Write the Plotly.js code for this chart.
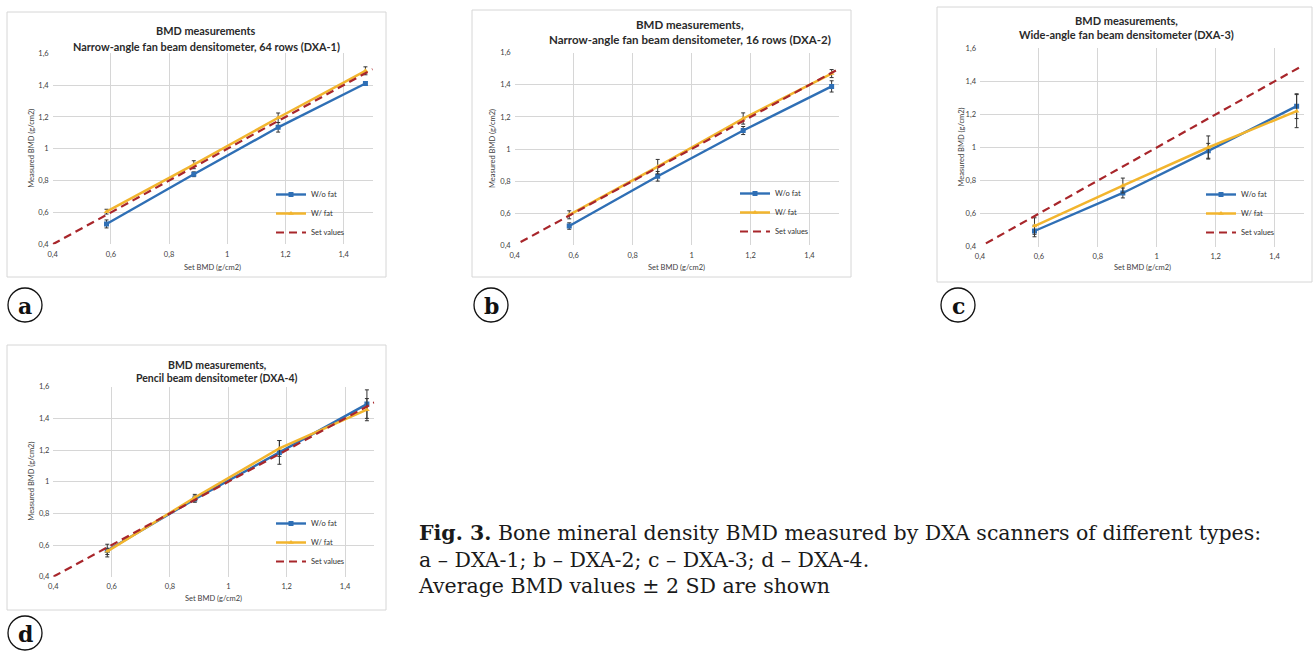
<!DOCTYPE html>
<html><head><meta charset="utf-8">
<script src="https://cdn.plot.ly/plotly-3.0.1.min.js"></script>
<style>html,body{margin:0;padding:0;background:#fff;}#chart{width:1313px;height:651px;}</style>
</head><body><div id="chart"></div>
<script>
// ---------------- DATA ----------------
const setBMD = [0.585, 0.885, 1.175, 1.475];

const dxa1WoFat    = [0.528, 0.840, 1.135, 1.410];
const dxa1WoFatSD2 = [0.025, 0.015, 0.030, 0.012];
const dxa1WFat     = [0.605, 0.900, 1.195, 1.490];
const dxa1WFatSD2  = [0.015, 0.025, 0.030, 0.025];

const dxa2WoFat    = [0.520, 0.830, 1.115, 1.390];
const dxa2WoFatSD2 = [0.020, 0.030, 0.025, 0.035];
const dxa2WFat     = [0.590, 0.890, 1.190, 1.470];
const dxa2WFatSD2  = [0.025, 0.045, 0.035, 0.025];

const dxa3WoFat    = [0.495, 0.725, 0.980, 1.250];
const dxa3WoFatSD2 = [0.035, 0.030, 0.045, 0.075];
const dxa3WFat     = [0.525, 0.770, 1.000, 1.220];
const dxa3WFatSD2  = [0.050, 0.045, 0.070, 0.100];

const dxa4WoFat    = [0.565, 0.890, 1.185, 1.490];
const dxa4WoFatSD2 = [0.040, 0.020, 0.075, 0.090];
const dxa4WFat     = [0.560, 0.900, 1.210, 1.455];
const dxa4WFatSD2  = [0.020, 0.020, 0.050, 0.070];

const setLineAD = [0.40, 1.50];
const setLineBC = [0.42, 1.49];

const seriesNames = ["W/o fat", "W/ fat", "Set values"];
const tickVals = [0.4, 0.6, 0.8, 1.0, 1.2, 1.4, 1.6];
const tickText = ["0,4", "0,6", "0,8", "1", "1,2", "1,4", "1,6"];
const titleLine1 = ["BMD measurements", "BMD measurements,", "BMD measurements,", "BMD measurements,"];
const titleLine2 = ["Narrow-angle fan beam densitometer, 64 rows (DXA-1)",
                    "Narrow-angle fan beam densitometer, 16 rows (DXA-2)",
                    "Wide-angle fan beam densitometer (DXA-3)",
                    "Pencil beam densitometer (DXA-4)"];
const panelLetters = ["a", "b", "c", "d"];
const xTitle = "Set BMD (g/cm2)";
const yTitle = "Measured BMD (g/cm2)";
const captionBold = "Fig. 3.";
const caption1 = " Bone mineral density BMD measured by DXA scanners of different types:";
const caption2 = "a – DXA-1; b – DXA-2; c – DXA-3; d – DXA-4.";
const caption3 = "Average BMD values ± 2 SD are shown";

// ---------------- LAYOUT ----------------
const W = 1313, H = 651;
const fx = p => p / W;
const fy = p => 1 - p / H;

const BLUE = "#2f6fb5", GOLD = "#f2b52e", RED = "#a8262b";
const FONT = "Lato, 'Open Sans', sans-serif";

const panelData = [
  {wo: dxa1WoFat, woE: dxa1WoFatSD2, w: dxa1WFat, wE: dxa1WFatSD2, set: setLineAD},
  {wo: dxa2WoFat, woE: dxa2WoFatSD2, w: dxa2WFat, wE: dxa2WFatSD2, set: setLineBC},
  {wo: dxa3WoFat, woE: dxa3WoFatSD2, w: dxa3WFat, wE: dxa3WFatSD2, set: setLineBC},
  {wo: dxa4WoFat, woE: dxa4WoFatSD2, w: dxa4WFat, wE: dxa4WFatSD2, set: setLineAD}
];

// pixel geometry of each panel
const geo = [
  {x0: 52.7, x1: 372.7, y0: 53.3, y1: 244.3, frame: [7, 12, 386, 277], t1: 30.5, t2: 46.5, tc: 206, ts: 10.9, yt: 32, xt: 267, leg: [271, 180], lab: [25, 305]},
  {x0: 514.7, x1: 839.0, y0: 52.7, y1: 245.3, frame: [472, 10, 851, 277], t1: 25, t2: 39.5, tc: 690, ts: 11.5, yt: 493, xt: 267, leg: [735, 179], lab: [491, 305]},
  {x0: 980.0, x1: 1304.0, y0: 48.3, y1: 246.7, frame: [937, 7, 1312, 282], t1: 20, t2: 35, tc: 1126, ts: 11, yt: 961, xt: 268, leg: [1201, 180], lab: [958, 305]},
  {x0: 53.3, x1: 374.2, y0: 386.7, y1: 576.7, frame: [7, 345, 386, 610], t1: 365, t2: 377.5, tc: 217, ts: 10.5, yt: 32, xt: 598, leg: [271, 509], lab: [25, 633]}
];

const traces = [];
const layout = {
  width: W, height: H, margin: {l: 0, r: 0, t: 0, b: 0},
  paper_bgcolor: "#fff", plot_bgcolor: "#fff",
  showlegend: true, font: {family: FONT, color: "#404040"},
  shapes: [], annotations: []
};

panelData.forEach((d, i) => {
  const g = geo[i];
  const sfx = i === 0 ? "" : String(i + 1);
  const xa = "x" + sfx, ya = "y" + sfx;
  const legName = i === 0 ? "legend" : "legend" + (i + 1);
  traces.push({
    x: setBMD, y: d.wo, xaxis: xa, yaxis: ya, name: seriesNames[0], legend: legName,
    mode: "lines+markers", line: {color: BLUE, width: 2.4},
    marker: {symbol: "square", size: 5, color: BLUE},
    error_y: {type: "data", array: d.woE, visible: true, color: "#333", thickness: 1, width: 2}
  });
  traces.push({
    x: setBMD, y: d.w, xaxis: xa, yaxis: ya, name: seriesNames[1], legend: legName,
    mode: "lines+markers", line: {color: GOLD, width: 2.5},
    marker: {symbol: "triangle-up", size: 5, color: GOLD},
    error_y: {type: "data", array: d.wE, visible: true, color: "#333", thickness: 1, width: 2}
  });
  traces.push({
    x: d.set, y: d.set, xaxis: xa, yaxis: ya, name: seriesNames[2], legend: legName,
    mode: "lines", line: {color: RED, width: 2.2, dash: "8px,5px"}
  });

  const axCommon = {
    range: [0.4, 1.5], showgrid: true, gridcolor: "#d6d6d6", gridwidth: 1,
    zeroline: false, showline: false, ticks: "", fixedrange: true,
    tickfont: {size: 7.5, family: FONT, color: "#404040"}
  };
  layout["xaxis" + sfx] = Object.assign({}, axCommon, {
    domain: [fx(g.x0), fx(g.x1)], anchor: ya, ticklabelstandoff: 4,
    tickvals: tickVals.slice(0, 6), ticktext: tickText.slice(0, 6)
  });
  layout["yaxis" + sfx] = Object.assign({}, axCommon, {
    range: [0.4, 1.6], domain: [fy(g.y1), fy(g.y0)], anchor: xa, ticklabelstandoff: 3,
    tickvals: tickVals, ticktext: tickText
  });
  layout[legName] = {
    x: fx(g.leg[0]), y: fy(g.leg[1]), xanchor: "left", yanchor: "top",
    bgcolor: "rgba(0,0,0,0)", borderwidth: 0,
    font: {size: 7.5, family: FONT, color: "#303030"}, tracegroupgap: 0
  };

  // frame
  layout.shapes.push({type: "rect", xref: "paper", yref: "paper",
    x0: fx(g.frame[0]), x1: fx(g.frame[2]), y0: fy(g.frame[3]), y1: fy(g.frame[1]),
    line: {color: "#d6d6d6", width: 1}, layer: "below"});
  // panel letter circle
  layout.shapes.push({type: "circle", xref: "paper", yref: "paper",
    x0: fx(g.lab[0] - 17), x1: fx(g.lab[0] + 17), y0: fy(g.lab[1] + 17), y1: fy(g.lab[1] - 17),
    line: {color: "#111", width: 1.3}});
  layout.annotations.push({xref: "paper", yref: "paper", x: fx(g.lab[0]), y: fy(g.lab[1] + 1),
    text: "<b>" + panelLetters[i] + "</b>", showarrow: false, xanchor: "center", yanchor: "middle",
    font: {family: "'DejaVu Serif', serif", size: 22, color: "#111"}});
  // titles
  layout.annotations.push({xref: "paper", yref: "paper", x: fx(g.tc), y: fy(g.t1),
    text: "<b>" + titleLine1[i] + "</b>", showarrow: false, xanchor: "center", yanchor: "middle",
    font: {family: FONT, size: g.ts, color: "#2a2a2a"}});
  layout.annotations.push({xref: "paper", yref: "paper", x: fx(g.tc), y: fy(g.t2),
    text: "<b>" + titleLine2[i] + "</b>", showarrow: false, xanchor: "center", yanchor: "middle",
    font: {family: FONT, size: g.ts, color: "#2a2a2a"}});
  // axis titles
  layout.annotations.push({xref: "paper", yref: "paper", x: fx((g.x0 + g.x1) / 2), y: fy(g.xt),
    text: xTitle, showarrow: false, xanchor: "center", yanchor: "middle",
    font: {family: FONT, size: 7.5, color: "#404040"}});
  layout.annotations.push({xref: "paper", yref: "paper", x: fx(g.yt), y: fy((g.y0 + g.y1) / 2),
    text: yTitle, showarrow: false, xanchor: "center", yanchor: "middle", textangle: -90,
    font: {family: FONT, size: 7.5, color: "#404040"}});
});

// caption (one multi-line text block)
layout.annotations.push({xref: "paper", yref: "paper", x: fx(416), y: fy(559),
  text: "<b>" + captionBold + "</b>" + caption1 + "<br>" + caption2 + "<br>" + caption3,
  showarrow: false, xanchor: "left", yanchor: "middle", align: "left",
  font: {family: "'DejaVu Serif', serif", size: 20.5, color: "#1a1a1a"}});

Plotly.newPlot("chart", traces, layout, {displayModeBar: false, staticPlot: true});
</script>
</body></html>
